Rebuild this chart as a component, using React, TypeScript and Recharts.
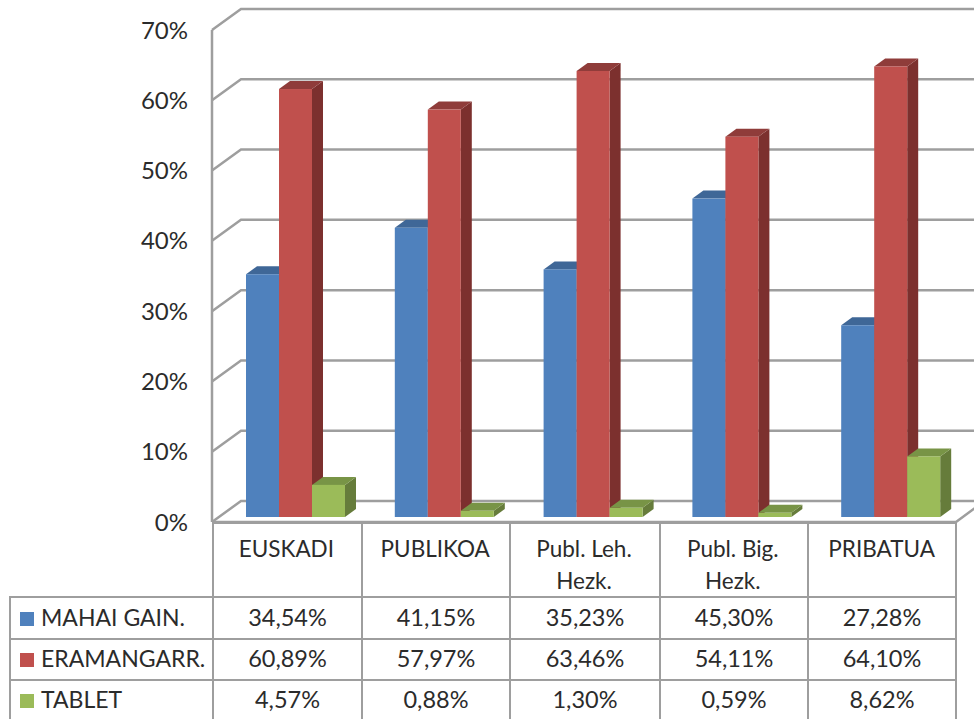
import { BarChart, Bar, XAxis, YAxis, CartesianGrid } from "recharts";

const categories = ["EUSKADI", "PUBLIKOA", "Publ. Leh. Hezk.", "Publ. Big. Hezk.", "PRIBATUA"];
const mahaiGain = [34.54, 41.15, 35.23, 45.3, 27.28];
const eramangarr = [60.89, 57.97, 63.46, 54.11, 64.1];
const tablet = [4.57, 0.88, 1.3, 0.59, 8.62];
const yTicks = [0, 10, 20, 30, 40, 50, 60, 70];

const FONT = "Lato, 'Open Sans', sans-serif";
const GRID = "#9e9e9e";
const TEXT = "#2b2b2b";

const seriesList = [
  { name: "MAHAI GAIN.", key: "mahai", values: mahaiGain, front: "#4F81BD", top: "#3F6797", side: "#375A85" },
  { name: "ERAMANGARR.", key: "eraman", values: eramangarr, front: "#C0504D", top: "#8F3C3A", side: "#7C302E" },
  { name: "TABLET", key: "tablet", values: tablet, front: "#9BBB59", top: "#789446", side: "#667C3B" },
];

const data = categories.map((name, i) => ({
  name,
  mahai: mahaiGain[i],
  eraman: eramangarr[i],
  tablet: tablet[i],
}));

const pct = (v: number) => v.toFixed(2).replace(".", ",") + "%";

// 3d box, the bars stand a bit inside the floor so everything shifts by a few px
function box(colors: { front: string; top: string; side: string }) {
  return (props: any) => {
    const { x, y, width, height } = props;
    const fx = x + 9;
    const fy = y - 5;
    const dx = 11;
    const dy = 8;
    return (
      <g>
        <polygon
          points={`${fx + width},${fy} ${fx + width + dx},${fy - dy} ${fx + width + dx},${fy + height - dy} ${fx + width},${fy + height}`}
          fill={colors.side}
        />
        <polygon
          points={`${fx},${fy} ${fx + dx},${fy - dy} ${fx + width + dx},${fy - dy} ${fx + width},${fy}`}
          fill={colors.top}
        />
        <rect x={fx} y={fy} width={width} height={height} fill={colors.front} />
      </g>
    );
  };
}

function gridLine(props: any) {
  const { x1, x2, y1, index } = props;
  const y = y1;
  return (
    <g key={`grid-${index}`} fill="none" stroke={GRID} strokeWidth={2.5}>
      <polyline points={`${x1},${y} ${x1 + 29},${y - 21} ${x2 + 40},${y - 21}`} />
      {Math.abs(y - 522) < 1 && (
        <polyline points={`${x1},${y} ${x2},${y} ${x2 + 19},${y - 14}`} />
      )}
      {Math.abs(y - 30) < 1 && <line x1={x1} y1={30} x2={x1} y2={522} />}
    </g>
  );
}

function CategoryTick(props: any) {
  const { x, payload } = props;
  const name: string = payload.value;
  const cut = name.lastIndexOf(" ");
  const lines = cut > 0 ? [name.slice(0, cut), name.slice(cut + 1)] : [name];
  return (
    <text x={x} y={557} textAnchor="middle" fontSize={22.5} fontFamily={FONT} fill={TEXT}>
      {lines.map((l, i) => (
        <tspan key={i} x={x} dy={i === 0 ? 0 : 32}>
          {l}
        </tspan>
      ))}
    </text>
  );
}

const cell: any = {
  border: `2px solid ${GRID}`,
  padding: "0 0 3px 0",
  textAlign: "center",
  fontFamily: FONT,
  fontSize: 23.5,
  color: TEXT,
  overflow: "hidden",
  whiteSpace: "nowrap",
};

function DataTable() {
  return (
    <table
      style={{
        position: "absolute",
        left: 9,
        top: 522,
        width: 947,
        tableLayout: "fixed",
        borderCollapse: "collapse",
      }}
    >
      <colgroup>
        <col style={{ width: 203 }} />
        <col style={{ width: 149 }} />
        <col style={{ width: 148 }} />
        <col style={{ width: 150 }} />
        <col style={{ width: 148 }} />
        <col style={{ width: 148 }} />
      </colgroup>
      <tbody>
        <tr style={{ height: 74 }}>
          <td style={{ ...cell, borderLeft: "none", borderTop: "none" }} />
          {categories.map((c) => (
            <td key={c} style={cell} />
          ))}
        </tr>
        {seriesList.map((s, r) => (
          <tr key={s.key} style={{ height: r === 0 ? 42 : 41 }}>
            <td style={{ ...cell, textAlign: "left", fontSize: 23 }}>
              <span
                style={{
                  display: "inline-block",
                  width: 14,
                  height: 14,
                  background: s.front,
                  marginLeft: 9,
                  marginRight: 7,
                }}
              />
              {s.name}
            </td>
            {s.values.map((v, i) => (
              <td key={i} style={cell}>
                {pct(v)}
              </td>
            ))}
          </tr>
        ))}
      </tbody>
    </table>
  );
}

export default function App() {
  return (
    <div
      style={{
        position: "absolute",
        left: 0,
        top: 0,
        width: 974,
        height: 719,
        overflow: "hidden",
        background: "#fff",
      }}
    >
      <DataTable />
      <div style={{ position: "absolute", left: 0, top: 0 }}>
        <BarChart
          width={974}
          height={719}
          data={data}
          margin={{ top: 30, right: 18, bottom: 0, left: 142 }}
          barCategoryGap={25}
          barGap={0}
          style={{ overflow: "hidden" }}
        >
          <CartesianGrid vertical={false} horizontal={gridLine} />
          <XAxis
            dataKey="name"
            axisLine={false}
            tickLine={false}
            height={197}
            interval={0}
            tick={CategoryTick}
          />
          <YAxis
            width={70}
            domain={[0, 70]}
            ticks={yTicks}
            axisLine={false}
            tickLine={false}
            tickSize={0}
            tickMargin={24}
            tickFormatter={(v: number) => `${v}%`}
            tick={{ fontSize: 24, fontFamily: FONT, fill: TEXT }}
          />
          {seriesList.map((s) => (
            <Bar key={s.key} dataKey={s.key} isAnimationActive={false} shape={box(s)} />
          ))}
        </BarChart>
      </div>
    </div>
  );
}
